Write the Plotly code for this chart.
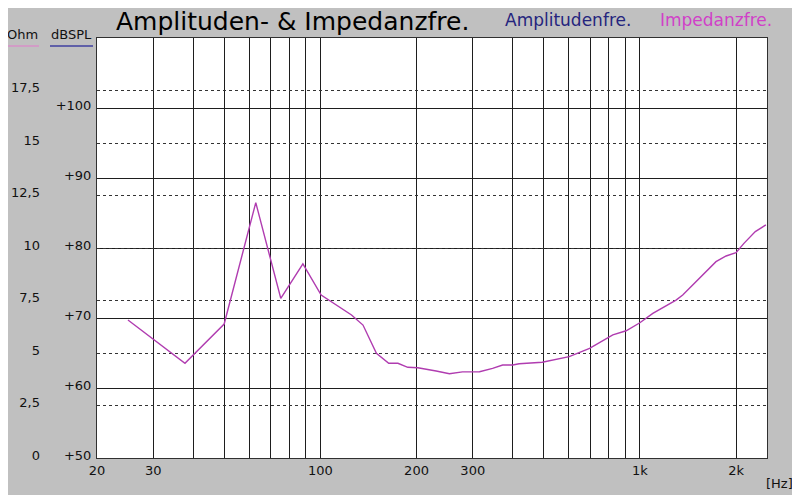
import plotly.graph_objects as go

# ---- data ----
freq_hz = [25.0, 37.7, 50.0, 62.8, 75.2, 88.2, 100.6, 125.2, 136, 149.8, 163.7, 174.9,
           187.8, 201.9, 230.4, 253.5, 278.6, 315, 346, 372, 400, 419, 495, 601, 696,
           766, 823, 906, 1000, 1098, 1298, 1362, 1573, 1731, 1862, 2000, 2117, 2298, 2480]
impedance_ohm = [6.57, 4.51, 6.38, 12.16, 7.6, 9.24, 7.76, 6.81, 6.33, 4.98, 4.51, 4.51,
                 4.32, 4.30, 4.14, 4.01, 4.10, 4.11, 4.27, 4.43, 4.43, 4.49, 4.56, 4.83, 5.22,
                 5.59, 5.86, 6.06, 6.44, 6.89, 7.52, 7.76, 8.71, 9.35, 9.62, 9.78, 10.22, 10.78, 11.1]

x_tickvals = [20, 30, 40, 50, 60, 70, 80, 90, 100, 200, 300, 400, 500, 600, 700, 800, 900, 1000, 2000]
x_ticktext = ['20', '30', '', '', '', '', '', '', '100', '200', '300', '', '', '', '', '', '', '1k', '2k']
db_tickvals = [50, 60, 70, 80, 90, 100]
db_ticktext = ['+50', '+60', '+70', '+80', '+90', '+100']
ohm_tickvals = [0, 2.5, 5, 7.5, 10, 12.5, 15, 17.5]
ohm_ticktext = ['0', '2,5', '5', '7,5', '10', '12,5', '15', '17,5']

# page body margin offset (figure starts 8px in from the window corner)
OFF = 8
W, H = 800 - OFF, 495 - OFF
# plot area in window pixels: x 97..767, y 38..458
L, R, T, B = 97 - OFF, 800 - 767, 38 - OFF, 495 - 458
PW = W - L - R
PH = H - T - B

def px(xw):
    return (xw - OFF - L) / PW

def py(yw):
    return 1 + (T - (yw - OFF)) / PH

FONT = "DejaVu Sans"
GRID = "#1e1e1e"

fig = go.Figure()
# empty trace so the dB axis subplot is created
fig.add_trace(go.Scatter(x=[], y=[], yaxis="y", mode="lines", showlegend=False, hoverinfo="skip"))
fig.add_trace(go.Scatter(
    x=freq_hz, y=impedance_ohm, yaxis="y2", mode="lines",
    line=dict(color="#b03cb0", width=1.4), showlegend=False, hoverinfo="skip"))

fig.update_layout(
    width=W, height=H,
    margin=dict(l=L, r=R, t=T, b=B, autoexpand=False),
    paper_bgcolor="#c0c0c0",
    plot_bgcolor="#ffffff",
    font=dict(family=FONT, size=13, color="#111111"),
    xaxis=dict(
        type="log", range=[1.30103, 3.39794], automargin=False,
        tickvals=x_tickvals, ticktext=x_ticktext, ticks="",
        showgrid=True, gridcolor=GRID, gridwidth=1,
        showline=True, linecolor="#303030", linewidth=1, mirror=True,
        zeroline=False, tickfont=dict(size=13, family=FONT)),
    yaxis=dict(
        range=[50, 110], tickvals=db_tickvals, ticktext=db_ticktext, automargin=False,
        ticks="", showgrid=True, gridcolor=GRID, gridwidth=1,
        showline=True, linecolor="#303030", linewidth=1, mirror=True,
        zeroline=False, ticklabelshift=-3, ticklabelstandoff=2,
        tickfont=dict(size=13, family=FONT)),
    yaxis2=dict(
        range=[0, 20], overlaying="y", anchor="x", side="left", automargin=False,
        tickvals=ohm_tickvals, ticktext=ohm_ticktext, ticks="",
        showgrid=True, gridcolor="#333333", gridwidth=1, griddash="dot",
        showline=False, zeroline=False, ticklabelshift=-3, ticklabelstandoff=56,
        tickfont=dict(size=13, family=FONT)),
)

annotations = [
    dict(text="Amplituden- & Impedanzfre.", x=px(292), y=py(22), font=dict(size=25, color="#000000", family=FONT)),
    dict(text="Amplitudenfre.", x=px(568), y=py(20), font=dict(size=17, color="#25257e", family=FONT)),
    dict(text="Impedanzfre.", x=px(716), y=py(20), font=dict(size=17, color="#d040c8", family=FONT)),
    dict(text="Ohm", x=px(22), y=py(34), font=dict(size=13, color="#111111", family=FONT)),
    dict(text="dBSPL", x=px(71), y=py(34), font=dict(size=13, color="#111111", family=FONT)),
    dict(text="[Hz]", x=px(779), y=py(483), font=dict(size=13, color="#111111", family=FONT)),
]
for a in annotations:
    a.update(xref="paper", yref="paper", showarrow=False, xanchor="center", yanchor="middle")
fig.update_layout(annotations=annotations)

fig.update_layout(shapes=[
    dict(type="line", xref="paper", yref="paper", x0=px(8), x1=px(39), y0=py(46), y1=py(46),
         line=dict(color="#d890c8", width=1.5)),
    dict(type="line", xref="paper", yref="paper", x0=px(50), x1=px(93), y0=py(46), y1=py(46),
         line=dict(color="#4040a0", width=1.5)),
])

fig.write_html("out.html")
